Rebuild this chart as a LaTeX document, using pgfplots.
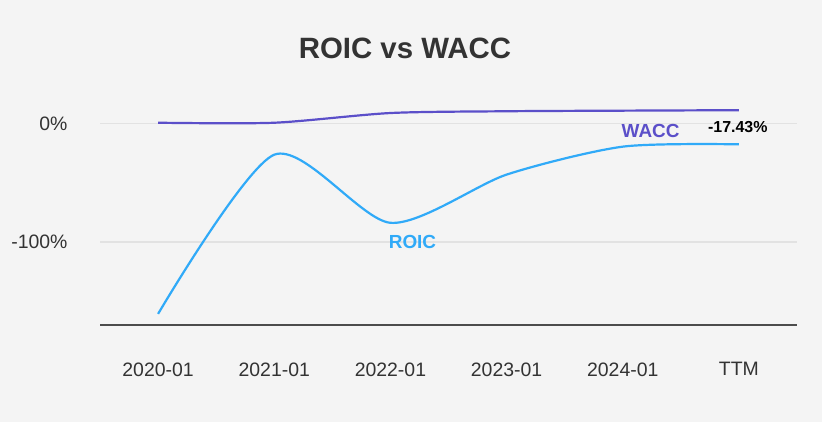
\documentclass[border=0pt]{standalone}
\usepackage{pgfplots}
\pgfplotsset{compat=1.18}
\usepackage{fontspec}
\setmainfont{Liberation Sans}
\definecolor{bg}{HTML}{F4F4F4}
\definecolor{wacc}{HTML}{5B4FC9}
\definecolor{roic}{HTML}{30AAF8}
\definecolor{txt}{HTML}{333333}
\definecolor{gridc}{HTML}{E2E2E2}
\begin{document}
\begin{tikzpicture}[x=1bp,y=1bp]
\fill[bg] (0,0) rectangle (822,422);
\node[font=\bfseries\fontsize{29.5}{33}\selectfont, text=txt] at (405,374) {ROIC vs WACC};
\begin{axis}[at={(100bp,97bp)}, anchor=south west, scale only axis,
  width=697bp, height=225bp,
  xmin=-0.5, xmax=5.5, ymin=-170, ymax=20,
  axis x line=bottom, axis y line=left,
  x axis line style={-, line width=1.8bp, color=black!70},
  y axis line style={draw=none},
  xtick={0,1,2,3,4,5},
  xticklabels={2020-01,2021-01,2022-01,2023-01,2024-01,TTM},
  ytick={-100,0}, yticklabels={-100\%,0\%},
  ymajorgrids, grid style={line width=1.6bp, color=gridc},
  major tick length=0pt,
  tick label style={font=\fontsize{19.5}{22}\selectfont, text=txt},
  xticklabel style={yshift=-34bp},
  yticklabel style={xshift=-29bp},
  clip=false,
]
\addplot[color=wacc, line width=2.2bp, smooth, tension=0.45] coordinates {
  (0,0.8) (1,0.8) (2,9) (3,10.5) (4,11) (5,11.4)};
\addplot[color=roic, line width=2.2bp, smooth, tension=0.45] coordinates {
  (0,-160.6) (1,-26.2) (2,-83.7) (3,-43) (4,-19.4) (5,-17.43)};
\node[text=roic, font=\bfseries\fontsize{19}{22}\selectfont] at (axis cs:2.19,-100) {ROIC};
\node[text=wacc, font=\bfseries\fontsize{19}{22}\selectfont] at (axis cs:4.24,-6) {WACC};
\node[text=black, font=\bfseries\fontsize{16}{19}\selectfont] at (axis cs:4.99,-2.5) {-17.43\%};
\end{axis}
\end{tikzpicture}
\end{document}
